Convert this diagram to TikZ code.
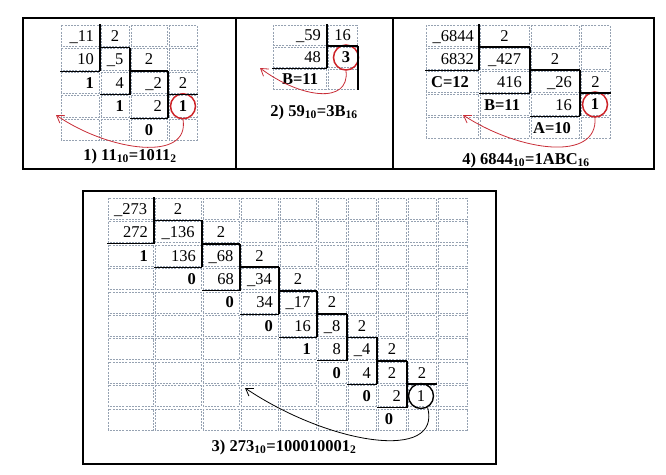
\documentclass[tikz,border=0pt]{standalone}
\usepackage{fontspec}
\setmainfont{Liberation Serif}
\usepackage{tikz}
\usetikzlibrary{arrows.meta,calc}
\definecolor{gridblue}{RGB}{150,162,178}
\definecolor{ringred}{RGB}{205,35,40}
\definecolor{arrowred}{RGB}{200,45,55}

\begin{document}
\begin{tikzpicture}[x=1pt,y=-1pt,
  every node/.style={font=\fontsize{16.5}{19}\selectfont,inner sep=0pt},
  cell/.style={draw=gridblue,dash pattern=on 2pt off 1.2pt,line width=0.6pt},
  bar/.style={line width=1.8pt},
  rule/.style={line width=0.9pt},
  frame/.style={line width=1.1pt},
  rt/.style={anchor=base east},
  ct/.style={anchor=base},
  redring/.style={draw=ringred,circle,line width=1.5pt,minimum size=25pt},
  blackring/.style={draw,circle,line width=1.4pt,minimum size=25pt},
  back/.style={-{Straight Barb[length=7pt,width=9pt]},line width=0.8pt}]
\useasboundingbox (0,0) rectangle (666,474);

% frames
\draw[frame] (23,18) rectangle (654,169);
\draw[frame] (236,18) -- (236,169);
\draw[frame] (393,18) -- (393,169);
\draw[frame] (83,191) rectangle (496,464);

% dashed cells
\foreach \xa/\xb in {60/100,100/130,130/168,168/198}
  \foreach \i in {0,...,4}
    \draw[cell] (\xa+1.2,{24+23.5*\i+1.2}) rectangle (\xb-1.2,{24+23.5*(\i+1)-1.2});
\foreach \xa/\xb in {272/327,327/358}
  \foreach \i in {0,...,2}
    \draw[cell] (\xa+1.2,{24+22*\i+1.2}) rectangle (\xb-1.2,{24+22*(\i+1)-1.2});
\foreach \xa/\xb in {425/479,479/530,530/580,580/611}
  \foreach \i in {0,...,4}
    \draw[cell] (\xa+1.2,{24+23*\i+1.2}) rectangle (\xb-1.2,{24+23*(\i+1)-1.2});
\foreach \xa/\xb in {107/154,154/202,202/240,240/279,279/317,317/347,347/377,377/407,407/437,437/468}
  \foreach \i in {0,...,9}
    \draw[cell] (\xa+1.2,{197+23.4*\i+1.2}) rectangle (\xb-1.2,{197+23.4*(\i+1)-1.2});

% 1) 11 -> binary
\node[rt] (p1a) at (94,41.3) {\_11};
\node[ct] (p1b) at (115,41.3) {2};
\node[rt] (p1c) at (94,64.8) {10};
\node[ct] (p1d) at (115,64.8) {\_5};
\node[ct] (p1e) at (149,64.8) {2};
\node[rt] (p1f) at (94,88.3) {\textbf{1}};
\node[rt] (p1g) at (124,88.3) {4};
\node[rt] (p1h) at (162,88.3) {\_2};
\node[ct] (p1i) at (183,88.3) {2};
\node[rt] (p1j) at (124,111.8) {\textbf{1}};
\node[rt] (p1k) at (162,111.8) {2};
\node[redring] (p1l) at (183,106.25) {\textbf{1}};
\node[ct] (p1m) at (149,135.3) {\textbf{0}};
\node[ct] (t1) at (130,160) {\textbf{1) 11\textsubscript{10}=1011\textsubscript{2}}};
\draw[bar] (100,24) -- (100,71);  \draw[bar] (100,47.5) -- (130,47.5);
\draw[bar] (130,47.5) -- (130,94.5); \draw[bar] (130,71) -- (168,71);
\draw[bar] (168,71) -- (168,118); \draw[bar] (168,94.5) -- (198,94.5);
\draw[rule] (60,71) -- (100,71); \draw[rule] (100,94.5) -- (130,94.5);
\draw[rule] (130,118) -- (168,118);
\coordinate (e1) at (56,115);
\draw[back,arrowred] (p1l.south) .. controls (190,162) and (110,152) .. (e1);

% 2) 59 -> hex
\node[rt] (p2a) at (321,40.5) {\_59};
\node[ct] (p2b) at (342.5,40.5) {16};
\node[rt] (p2c) at (321,62.5) {48};
\node[redring] (p2d) at (346,57.5) {\textbf{3}};
\node[ct] (p2e) at (300,84.5) {\textbf{B=11}};
\node[ct] (t2) at (314,116) {\textbf{2) 59\textsubscript{10}=3B\textsubscript{16}}};
\draw[bar] (327,24) -- (327,68); \draw[bar] (327,46) -- (358,46);
\draw[bar] (358,46) -- (358,90);
\draw[rule] (272,68) -- (327,68);
\coordinate (e2) at (260,68);
\draw[back,arrowred] (p2d.south) .. controls (350,105) and (300,98) .. (e2);

% 4) 6844 -> hex
\node[rt] (p4a) at (474,41) {\_6844};
\node[ct] (p4b) at (504.5,41) {2};
\node[rt] (p4c) at (474,64) {6832};
\node[ct] (p4d) at (504.5,64) {\_427};
\node[ct] (p4e) at (555,64) {2};
\node[ct] (p4f) at (450,87) {\textbf{C=12}};
\node[rt] (p4g) at (522,87) {416};
\node[rt] (p4h) at (572,87) {\_26};
\node[ct] (p4i) at (595.5,87) {2};
\node[ct] (p4j) at (502,110) {\textbf{B=11}};
\node[rt] (p4k) at (572,110) {16};
\node[redring] (p4l) at (595,104.5) {\textbf{1}};
\node[ct] (p4m) at (552,133) {\textbf{A=10}};
\node[ct] (t4) at (526,164) {\textbf{4) 6844\textsubscript{10}=1ABC\textsubscript{16}}};
\draw[bar] (479,24) -- (479,70); \draw[bar] (479,47) -- (530,47);
\draw[bar] (530,47) -- (530,93); \draw[bar] (530,70) -- (580,70);
\draw[bar] (580,70) -- (580,116); \draw[bar] (580,93) -- (611,93);
\draw[rule] (425,70) -- (479,70); \draw[rule] (479,93) -- (530,93);
\draw[rule] (530,116) -- (580,116);
\coordinate (e4) at (463,115);
\draw[back,arrowred] (p4l.south) .. controls (598,162) and (520,152) .. (e4);

% 3) 273 -> binary
\node[ct] (q1a) at (130.5,214.2) {\_273};
\node[ct] (q1b) at (178,214.2) {2};
\node[rt] (q2a) at (148,237.6) {272};
\node[ct] (q2b) at (178,237.6) {\_136};
\node[ct] (q2c) at (221,237.6) {2};
\node[rt] (q3a) at (148,261) {\textbf{1}};
\node[rt] (q3b) at (196,261) {136};
\node[ct] (q3c) at (221,261) {\_68};
\node[ct] (q3d) at (259.5,261) {2};
\node[rt] (q4a) at (196,284.4) {\textbf{0}};
\node[rt] (q4b) at (234,284.4) {68};
\node[ct] (q4c) at (259.5,284.4) {\_34};
\node[ct] (q4d) at (298,284.4) {2};
\node[rt] (q5a) at (234,307.8) {\textbf{0}};
\node[rt] (q5b) at (273,307.8) {34};
\node[ct] (q5c) at (298,307.8) {\_17};
\node[ct] (q5d) at (332,307.8) {2};
\node[rt] (q6a) at (273,331.2) {\textbf{0}};
\node[rt] (q6b) at (311,331.2) {16};
\node[ct] (q6c) at (332,331.2) {\_8};
\node[ct] (q6d) at (362,331.2) {2};
\node[rt] (q7a) at (311,354.6) {\textbf{1}};
\node[rt] (q7b) at (341,354.6) {8};
\node[ct] (q7c) at (362,354.6) {\_4};
\node[ct] (q7d) at (392,354.6) {2};
\node[rt] (q8a) at (341,378) {\textbf{0}};
\node[rt] (q8b) at (371,378) {4};
\node[ct] (q8c) at (392,378) {2};
\node[ct] (q8d) at (422,378) {2};
\node[rt] (q9a) at (371,401.4) {\textbf{0}};
\node[rt] (q9b) at (401,401.4) {2};
\node[blackring] (q9c) at (421,396) {1};
\node[ct] (q10a) at (389,424.8) {\textbf{0}};
\node[ct] (t3) at (284,451) {\textbf{3) 273\textsubscript{10}=100010001\textsubscript{2}}};
\foreach \k/\xp/\xk/\xn in {1/107/154/202,2/154/202/240,3/202/240/279,4/240/279/317,
                            5/279/317/347,6/317/347/377,7/347/377/407,8/377/407/437} {
  \draw[bar] (\xk,{197+23.4*(\k-1)}) -- (\xk,{197+23.4*(\k+1)});
  \draw[bar] (\xk,{197+23.4*\k}) -- (\xn,{197+23.4*\k});
  \draw[rule] (\xp,{197+23.4*(\k+1)}) -- (\xk,{197+23.4*(\k+1)});
}
\coordinate (e3) at (245,388);
\draw[back] (q9c.-60) .. controls (442,462) and (330,445) .. (e3);
\end{tikzpicture}
\end{document}
